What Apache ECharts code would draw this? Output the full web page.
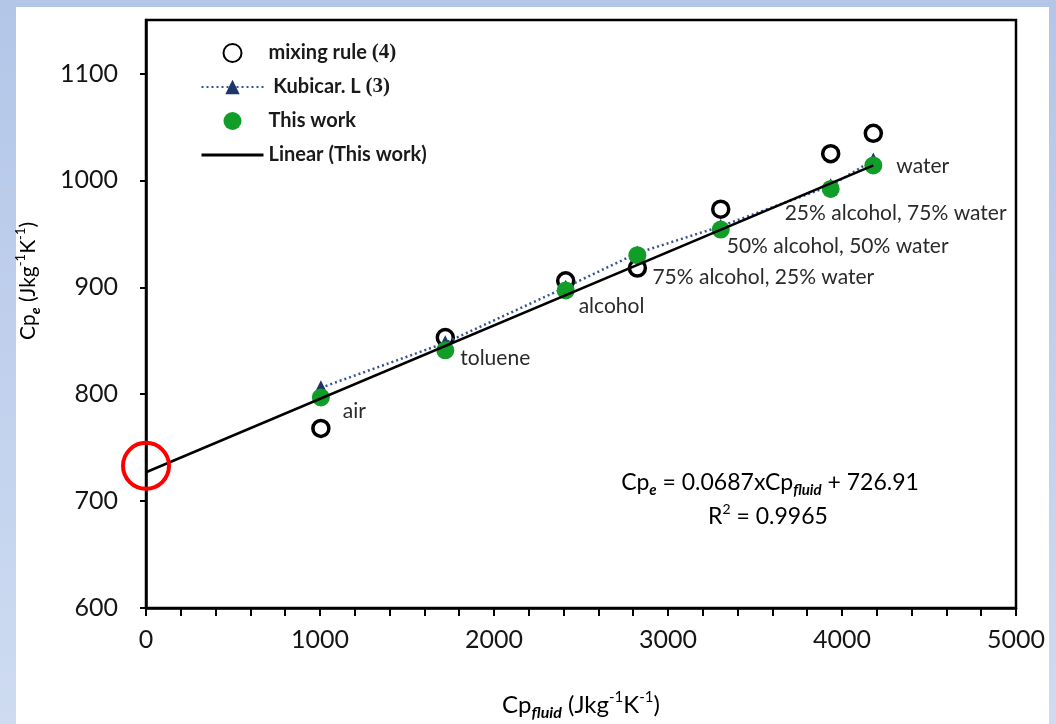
<!DOCTYPE html>
<html>
<head>
<meta charset="UTF-8">
<title>Cp effective vs Cp fluid</title>
<script src="https://cdn.jsdelivr.net/npm/echarts@6/dist/echarts.min.js"></script>
<style>
html, body { margin:0; padding:0; width:1056px; height:724px; overflow:hidden;
  background: linear-gradient(#b3c6e8, #cedbf1); }
#panel { position:absolute; left:16px; top:7px; width:1033px; height:717px; background:#fff; }
#main { position:absolute; left:0; top:0; width:1056px; height:724px; }
</style>
</head>
<body>
<div id="panel"></div>
<div id="main"></div>
<script>
// fluids and measured / predicted values
var fluidCp = [1005, 1720, 2412, 2824, 3303, 3935, 4180];
var fluidNames = ['air', 'toluene', 'alcohol', '75% alcohol, 25% water',
                  '50% alcohol, 50% water', '25% alcohol, 75% water', 'water'];
var mixingRule = [768, 853, 906, 918, 973, 1025, 1044];
var kubicar = [806, 848, 900, 932, 957, 995, 1019];
var thisWork = [797, 841, 897, 930, 954, 992, 1014];
// trend line end points
var linearX = [0, 4180];
var linearY = [727, 1014];
var yTicks = [600, 700, 800, 900, 1000, 1100];

// pixel nudges for the fluid name labels
var labelShift = [[22, 14], [15, 8], [13, 16], [15, 22], [6, 17], [-46, 24], [23, 1]];

var FONT = 'Lato';
var TXT = '#151515';

function pairs(xs, ys) {
  return xs.map(function (x, i) { return [x, ys[i]]; });
}
function plain(v) { return String(v); }

var chart = echarts.init(document.getElementById('main'));

var option = {
  backgroundColor: 'transparent',
  animation: false,
  grid: { left: 146, right: 40, top: 20, bottom: 116, show: true,
          borderColor: '#000', borderWidth: 2.5, backgroundColor: 'transparent' },
  legend: {
    orient: 'vertical', left: 195, top: 37,
    itemWidth: 62, itemHeight: 18, itemGap: 12,
    textStyle: { fontFamily: FONT, fontSize: 20, fontWeight: 'bold', color: '#1a1a1a', lineHeight: 22,
      rich: { s: { fontFamily: 'Liberation Serif', fontSize: 21, fontWeight: 'bold', color: '#1a1a1a' } } },
    formatter: function (n) {
      if (n === 'mixing rule') return 'mixing rule {s|(4)}';
      if (n === 'Kubicar. L') return ' Kubicar. L {s|(3)}';
      return n;
    },
    data: ['mixing rule', 'Kubicar. L', 'This work',
           { name: 'Linear (This work)', itemStyle: { opacity: 0 }, lineStyle: { width: 3 } }]
  },
  xAxis: {
    type: 'value', min: 0, max: 5000, interval: 1000,
    axisLine: { show: true, onZero: false, lineStyle: { color: '#000', width: 2.5 } },
    axisTick: { show: true, length: 8, lineStyle: { color: '#000', width: 2 } },
    minorTick: { show: true, splitNumber: 5, length: 8, lineStyle: { color: '#000', width: 2 } },
    axisLabel: { fontFamily: FONT, fontSize: 25, color: TXT, margin: 19, formatter: plain },
    splitLine: { show: false }
  },
  yAxis: {
    type: 'value', min: 600, max: 1150, interval: 100,
    axisLine: { show: true, onZero: false, lineStyle: { color: '#000', width: 2.5 } },
    axisTick: { show: true, length: 6, customValues: yTicks, lineStyle: { color: '#000', width: 2 } },
    axisLabel: { customValues: yTicks, fontFamily: FONT, fontSize: 25, color: TXT, margin: 28, formatter: plain },
    splitLine: { show: false }
  },
  series: [
    {
      name: 'mixing rule', type: 'scatter', symbol: 'circle', symbolSize: 16,
      itemStyle: { color: '#fff', borderColor: '#000', borderWidth: 3.5, opacity: 1 },
      data: pairs(fluidCp, mixingRule), z: 2
    },
    {
      name: 'Kubicar. L', type: 'line', symbol: 'triangle', symbolSize: 15,
      itemStyle: { color: '#1f3468', opacity: 1 },
      lineStyle: { color: '#34558f', width: 2.5, type: [2, 3] },
      data: pairs(fluidCp, kubicar), z: 3
    },
    {
      name: 'This work', type: 'scatter', symbol: 'circle', symbolSize: 18,
      itemStyle: { color: '#109e28', opacity: 1 },
      label: { show: true, position: 'inside', align: 'left', verticalAlign: 'middle',
               fontFamily: FONT, fontSize: 21, color: '#2a2a2a' },
      data: fluidCp.map(function (x, i) {
        return { value: [x, thisWork[i]],
                 label: { formatter: fluidNames[i], offset: labelShift[i] } };
      }),
      z: 4
    },
    {
      name: 'Linear (This work)', type: 'line', symbol: 'none',
      lineStyle: { color: '#000', width: 2.5 }, itemStyle: { color: '#000' },
      data: pairs(linearX, linearY), z: 5
    }
  ]
};

chart.setOption(option);

function styles(size, subSize) {
  return {
    a: { fontFamily: FONT, fontSize: size, color: TXT, lineHeight: size + 7 },
    b: { fontFamily: FONT, fontSize: subSize, fontStyle: 'italic', fontWeight: 'bold', color: TXT,
         verticalAlign: 'bottom', lineHeight: subSize },
    p: { fontFamily: FONT, fontSize: subSize - 1, color: TXT, verticalAlign: 'top', lineHeight: subSize - 1 }
  };
}

var hot = chart.convertToPixel({ gridIndex: 0 }, [0, 733]);

chart.setOption({
  graphic: [
    { type: 'circle', shape: { cx: hot[0], cy: hot[1], r: 23 }, z: 100,
      style: { fill: 'none', stroke: '#f00', lineWidth: 4 } },
    { type: 'text', x: 770, y: 483, z: 100,
      style: { text: '{a|Cp}{b|e}{a| = 0.0687xCp}{b|fluid}{a| + 726.91}',
               rich: styles(23, 15), align: 'center', verticalAlign: 'middle' } },
    { type: 'text', x: 768, y: 517, z: 100,
      style: { text: '{a|R}{p|2}{a| = 0.9965}',
               rich: styles(23, 15), align: 'center', verticalAlign: 'middle' } },
    { type: 'text', x: 581, y: 705, z: 100,
      style: { text: '{a|Cp}{b|fluid}{a| (Jkg}{p|-1}{a|K}{p|-1}{a|)}',
               rich: styles(24, 16), align: 'center', verticalAlign: 'middle' } },
    { type: 'text', x: 28, y: 281, rotation: Math.PI / 2, z: 100,
      style: { text: '{a|Cp}{b|e}{a| (Jkg}{p|-1}{a|K}{p|-1}{a|)}',
               rich: styles(21, 14), align: 'center', verticalAlign: 'middle' } }
  ]
});
</script>
</body>
</html>
